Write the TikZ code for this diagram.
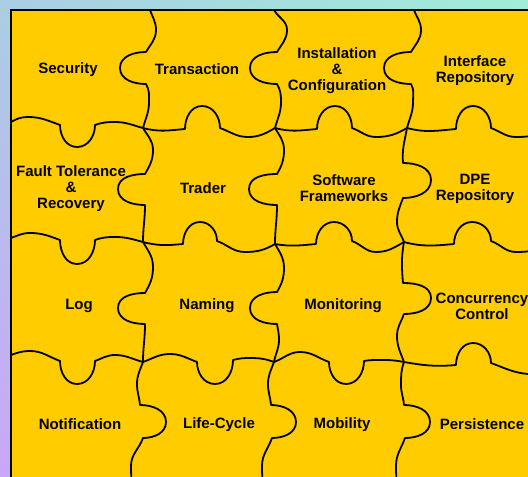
\documentclass[tikz,border=0pt]{standalone}
\usepackage{fontspec}
\setmainfont{Liberation Sans}
\usetikzlibrary{shadings}
\definecolor{puzzleyellow}{RGB}{255,204,0}
\definecolor{bgblue}{RGB}{170,206,228}
\definecolor{bgmint}{RGB}{160,238,216}
\definecolor{bglilac}{RGB}{202,166,248}
\definecolor{bgmid}{RGB}{185,205,235}

\begin{document}
\begin{tikzpicture}[x=1pt,y=1pt]
  \useasboundingbox (0,0) rectangle (528,-477);
  \clip (0,0) rectangle (528,-477);
  \shade[upper left=bgblue,upper right=bgmint,lower left=bglilac,lower right=bgmid]
    (0,0) rectangle (528,-477);
  \fill[puzzleyellow] (11,-10) rectangle (545,-490);

  % corners where four pieces meet
  \coordinate (j11) at (143,-128);
  \coordinate (j21) at (275,-128);
  \coordinate (j31) at (407,-128);
  \coordinate (j12) at (143,-242);
  \coordinate (j22) at (275,-244);
  \coordinate (j32) at (404,-242);
  \coordinate (j13) at (143,-362);
  \coordinate (j23) at (274,-362);
  \coordinate (j33) at (404,-362);

  \begin{scope}[
    puzzle edge/.style={
      draw,
      line width=1.8pt,
      line join=round,
      line cap=round,
    },
    ]
    % first row, edges between columns
    \path[puzzle edge] (150,-10) to[out=-70,in=90] (156,-30) to[out=-90,in=60] (146,-52)
      to[out=180,in=90] (120,-68) to[out=-90,in=180] (146,-84)
      to[out=-60,in=90] (149,-102) to[out=-90,in=75] (j11);
    \path[puzzle edge] (274,-10) to[out=-60,in=90] (287,-30) to[out=-90,in=60] (277,-52)
      to[out=180,in=90] (250,-68) to[out=-90,in=180] (277,-84)
      to[out=-60,in=90] (281,-102) to[out=-90,in=75] (j21);
    \path[puzzle edge] (414,-10) to[out=-70,in=90] (421,-30) to[out=-90,in=60] (411,-52)
      to[out=180,in=90] (384,-68) to[out=-90,in=180] (411,-84)
      to[out=-60,in=90] (413,-102) to[out=-90,in=75] (j31);
    % first row divider
    \path[puzzle edge] (11,-122) to[out=30,in=180] (28,-117) to[out=0,in=160] (60,-125)
      to[out=-90,in=180] (77,-147) to[out=0,in=-90] (95,-125)
      to[out=20,in=180] (115,-122) to[out=0,in=165] (j11)
      to[out=-15,in=185] (185,-129)
      to[out=90,in=180] (202,-106) to[out=0,in=90] (220,-128)
      to[out=-20,in=180] (248,-137) to[out=0,in=-150] (j21)
      to[out=-15,in=185] (317,-129)
      to[out=90,in=180] (335,-106) to[out=0,in=90] (352,-128)
      to[out=-20,in=180] (376,-137) to[out=0,in=-150] (j31)
      to[out=-15,in=185] (456,-129)
      to[out=90,in=180] (473,-106) to[out=0,in=90] (491,-128)
      to[out=-20,in=180] (516,-137) to[out=0,in=-160] (545,-132);
    % second row
    \path[puzzle edge] (j11) to[out=-60,in=90] (153,-150) to[out=-90,in=60] (145,-174)
      to[out=180,in=90] (118,-189) to[out=-90,in=180] (145,-205)
      to[out=-90,in=90] (j12);
    \path[puzzle edge] (j21) to[out=-60,in=90] (284,-150) to[out=-90,in=60] (277,-174)
      to[out=180,in=90] (249,-189) to[out=-90,in=180] (277,-205)
      to[out=-90,in=90] (j22);
    \path[puzzle edge] (j31) to[out=-100,in=95] (403,-163)
      to[out=0,in=90] (431,-180) to[out=-90,in=0] (403,-198)
      to[out=-110,in=90] (397,-222) to[out=-90,in=110] (j32);
    % second row divider
    \path[puzzle edge] (11,-238) to[out=20,in=180] (30,-233) to[out=0,in=160] (60,-240)
      to[out=-90,in=180] (77,-264) to[out=0,in=-90] (95,-240)
      to[out=20,in=180] (115,-237) to[out=0,in=165] (j12)
      to[out=-15,in=185] (183,-244)
      to[out=90,in=180] (200,-222) to[out=0,in=90] (217,-241)
      to[out=-20,in=180] (245,-252) to[out=0,in=-150] (j22)
      to[out=-10,in=185] (316,-244)
      to[out=90,in=180] (334,-222) to[out=0,in=90] (352,-241)
      to[out=-20,in=180] (376,-252) to[out=0,in=-150] (j32)
      to[out=-15,in=185] (454,-244)
      to[out=90,in=180] (472,-222) to[out=0,in=90] (491,-241)
      to[out=-20,in=180] (516,-252) to[out=0,in=-160] (545,-247);
    % third row
    \path[puzzle edge] (j12) to[out=-60,in=90] (153,-267) to[out=-90,in=60] (145,-293)
      to[out=180,in=90] (118,-308) to[out=-90,in=180] (145,-324)
      to[out=-90,in=90] (j13);
    \path[puzzle edge] (j22) to[out=-60,in=90] (284,-268) to[out=-90,in=60] (277,-292)
      to[out=180,in=90] (250,-308) to[out=-90,in=180] (277,-324)
      to[out=-80,in=90] (279,-340) to[out=-90,in=80] (j23);
    \path[puzzle edge] (j32) to[out=-100,in=95] (403,-283)
      to[out=0,in=90] (431,-298) to[out=-90,in=0] (404,-314)
      to[out=-110,in=90] (397,-336) to[out=-90,in=110] (j33);
    % third row divider
    \path[puzzle edge] (11,-355) to[out=20,in=180] (30,-351) to[out=0,in=160] (60,-361)
      to[out=-90,in=180] (77,-384) to[out=0,in=-90] (95,-361)
      to[out=20,in=180] (115,-355) to[out=0,in=165] (j13)
      to[out=20,in=180] (170,-354) to[out=0,in=160] (197,-362)
      to[out=-90,in=180] (215,-384) to[out=0,in=-90] (233,-360)
      to[out=15,in=180] (250,-358) to[out=0,in=160] (j23)
      to[out=20,in=180] (300,-352) to[out=0,in=160] (329,-362)
      to[out=-90,in=180] (346,-384) to[out=0,in=-90] (364,-361)
      to[out=10,in=180] (385,-360) to[out=0,in=170] (j33)
      to[out=-10,in=185] (456,-365)
      to[out=90,in=180] (473,-343) to[out=0,in=90] (491,-363)
      to[out=-20,in=175] (528,-374) to[out=-5,in=180] (545,-375);
    % fourth row
    \path[puzzle edge] (j13) to[out=-110,in=90] (137,-384) to[out=-90,in=95] (140,-405)
      to[out=0,in=90] (166,-422) to[out=-90,in=0] (143,-438)
      to[out=-110,in=90] (131,-466) to[out=-90,in=100] (133,-490);
    \path[puzzle edge] (j23) to[out=-110,in=90] (268,-384) to[out=-90,in=95] (271,-405)
      to[out=0,in=90] (296,-422) to[out=-90,in=0] (272,-438)
      to[out=-110,in=90] (262,-466) to[out=-90,in=100] (264,-490);
    \path[puzzle edge] (j33) to[out=-110,in=90] (401,-385) to[out=-90,in=95] (404,-405)
      to[out=0,in=90] (430,-422) to[out=-90,in=0] (405,-438)
      to[out=-110,in=90] (396,-466) to[out=-90,in=100] (398,-490);
  \end{scope}

  \draw[line width=2.5pt] (11,-490) -- (11,-10) -- (545,-10);

  \begin{scope}[
    piece label/.style={
      align=center,
      inner sep=0pt,
      yshift=-1.5pt,
      font=\fontsize{15}{16}\selectfont\bfseries,
    },
    ]
    \node[piece label] (security)    at (68,-68)   {Security};
    \node[piece label] (transaction) at (197,-68)  {Transaction};
    \node[piece label] (install)     at (337,-69)  {Installation\\\&\\Configuration};
    \node[piece label] (ifrepo)      at (475,-69)  {Interface\\Repository};
    \node[piece label] (faulttol)    at (71,-187)  {Fault Tolerance\\\&\\Recovery};
    \node[piece label] (trader)      at (203,-187) {Trader};
    \node[piece label] (swframe)     at (344,-187) {Software\\Frameworks};
    \node[piece label] (dperepo)     at (475,-187) {DPE\\Repository};
    \node[piece label] (log)         at (79,-304)  {Log};
    \node[piece label] (naming)      at (207,-304) {Naming};
    \node[piece label] (monitor)     at (343,-304) {Monitoring};
    \node[piece label] (concur)      at (482,-305) {Concurrency\\Control};
    \node[piece label] (notify)      at (80,-423)  {Notification};
    \node[piece label] (lifecycle)   at (219,-423) {Life-Cycle};
    \node[piece label] (mobility)    at (342,-423) {Mobility};
    \node[piece label] (persist)     at (482,-423) {Persistence};
  \end{scope}
\end{tikzpicture}
\end{document}
